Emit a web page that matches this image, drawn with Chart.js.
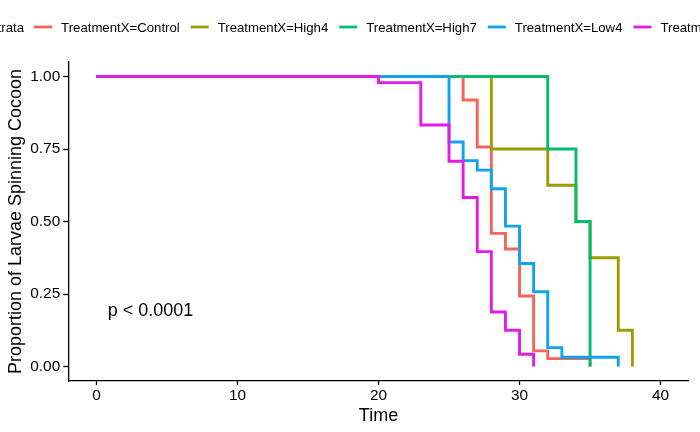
<!DOCTYPE html>
<html><head><meta charset="utf-8">
<script src="https://cdn.jsdelivr.net/npm/chart.js@4/dist/chart.umd.min.js"></script>
<style>html,body{margin:0;padding:0;background:#fff;overflow:hidden}</style>
</head><body>
<canvas id="c" width="700" height="432"></canvas>
<script>
// ---- data ----
const legendTitle = 'Strata';
const seriesLabels = ['TreatmentX=Control', 'TreatmentX=High4', 'TreatmentX=High7', 'TreatmentX=Low4', 'TreatmentX=Low7'];
const seriesColors = ['#F5635A', '#9C9C00', '#00BE6C', '#10A2EE', '#E21CE6'];

const controlTime = [0, 26, 27, 28, 29, 30, 31, 32, 35];
const controlSurv = [1, 0.919, 0.757, 0.459, 0.405, 0.243, 0.054, 0.027, 0];
const high4Time = [0, 28, 32, 34, 35, 37, 38];
const high4Surv = [1, 0.75, 0.625, 0.5, 0.375, 0.125, 0];
const high7Time = [0, 32, 34, 35];
const high7Surv = [1, 0.75, 0.5, 0];
const low4Time = [0, 25, 26, 27, 28, 29, 30, 31, 32, 33, 37];
const low4Surv = [1, 0.774, 0.710, 0.677, 0.613, 0.484, 0.355, 0.258, 0.065, 0.032, 0];
const low7Time = [0, 20, 23, 25, 26, 27, 28, 29, 30, 31];
const low7Surv = [1, 0.979, 0.833, 0.708, 0.583, 0.396, 0.188, 0.125, 0.042, 0];

const xTicks = [0, 10, 20, 30, 40];
const yTicks = [0, 0.25, 0.5, 0.75, 1];
const yTickLabels = ['0.00', '0.25', '0.50', '0.75', '1.00'];
const xTitle = 'Time';
const yTitle = 'Proportion of Larvae Spinning Cocoon';
const pValueText = 'p < 0.0001';
const pValueAt = [0.8, 0.19];

// ---- chart ----
const FONT = '"Liberation Sans", Arial, Helvetica, sans-serif';
const times = [controlTime, high4Time, high7Time, low4Time, low7Time];
const survs = [controlSurv, high4Surv, high7Surv, low4Surv, low7Surv];

const datasets = seriesLabels.map((lab, i) => ({
  label: lab,
  data: times[i].map((t, j) => ({ x: t, y: survs[i][j] })),
  borderColor: seriesColors[i],
  backgroundColor: seriesColors[i],
  borderWidth: 2.9,
  stepped: 'before',
  pointRadius: 0,
  fill: false,
  order: seriesLabels.length - i,
  clip: false
}));

const overlayPlugin = {
  id: 'overlay',
  afterDraw(chart) {
    const ctx = chart.ctx;
    const area = chart.chartArea;
    const xs = chart.scales.x, ys = chart.scales.y;
    ctx.save();
    // p-value annotation
    ctx.font = '18px ' + FONT;
    ctx.fillStyle = '#000';
    ctx.textAlign = 'left';
    ctx.textBaseline = 'middle';
    ctx.fillText(pValueText, xs.getPixelForValue(pValueAt[0]), ys.getPixelForValue(pValueAt[1]));

    // legend (horizontal, centred on the panel, may overflow)
    const lf = '13.2px ' + FONT;
    ctx.font = lf;
    const keyW = 18, gapKeyText = 9, gapItem = 11, gapTitle = 10;
    const titleW = ctx.measureText(legendTitle).width;
    const widths = seriesLabels.map(l => ctx.measureText(l).width);
    let total = titleW + gapTitle;
    widths.forEach((w, i) => { total += keyW + gapKeyText + w + (i < widths.length - 1 ? gapItem : 0); });
    const cx = (area.left + area.right) / 2;
    let x = cx - total / 2;
    const y = 28;
    ctx.fillStyle = '#000';
    ctx.textBaseline = 'middle';
    ctx.fillText(legendTitle, x, y);
    x += titleW + gapTitle;
    seriesLabels.forEach((l, i) => {
      ctx.strokeStyle = seriesColors[i];
      ctx.lineWidth = 2.8;
      ctx.beginPath();
      ctx.moveTo(x, y - 1);
      ctx.lineTo(x + keyW, y - 1);
      ctx.stroke();
      x += keyW + gapKeyText;
      ctx.fillStyle = '#000';
      ctx.fillText(l, x, y);
      x += widths[i] + gapItem;
    });
    ctx.restore();
  }
};

new Chart(document.getElementById('c'), {
  type: 'line',
  data: { datasets },
  options: {
    responsive: false,
    animation: false,
    events: [],
    layout: { padding: { top: 62, right: 11.2, left: 0, bottom: 0 } },
    plugins: { legend: { display: false }, tooltip: { enabled: false } },
    scales: {
      x: {
        type: 'linear',
        min: -2, max: 42,
        afterBuildTicks: s => { s.ticks = xTicks.map(v => ({ value: v })); },
        afterFit: s => { s.height = 51; },
        ticks: { font: { family: FONT, size: 15.4 }, color: '#000', padding: 2, maxRotation: 0 },
        grid: { drawOnChartArea: false, drawTicks: true, tickLength: 4, tickWidth: 1.3, tickColor: '#000' },
        border: { display: true, color: '#000', width: 1.3 },
        title: { display: true, text: xTitle, color: '#000', font: { family: FONT, size: 18 }, padding: { top: 0, bottom: 5 } }
      },
      y: {
        type: 'linear',
        min: -0.05, max: 1.05,
        afterBuildTicks: s => { s.ticks = yTicks.map(v => ({ value: v })); },
        afterFit: s => { s.width = 68.2; },
        ticks: { font: { family: FONT, size: 15.4 }, color: '#000', padding: 3,
                 callback: (v) => yTickLabels[yTicks.indexOf(v)] },
        grid: { drawOnChartArea: false, drawTicks: true, tickLength: 5, tickWidth: 1.3, tickColor: '#000' },
        border: { display: true, color: '#000', width: 1.3 },
        title: { display: true, text: yTitle, color: '#000', font: { family: FONT, size: 18 }, padding: { top: 5, bottom: 0 } }
      }
    }
  },
  plugins: [overlayPlugin]
});
</script>
</body></html>
